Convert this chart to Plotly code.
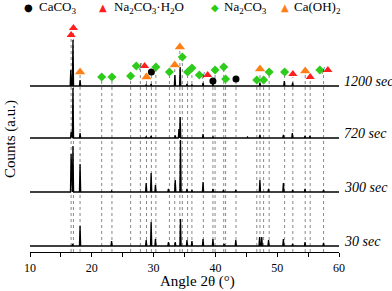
import plotly.graph_objects as go

# ---------------- data ----------------
pattern_names = ["30 sec", "300 sec", "720 sec", "1200 sec"]

peaks_30_pos = [16.9, 18.1, 23.2, 28.8, 29.6, 30.3, 32.4, 33.5, 34.35, 35.4, 36.2, 38.0, 39.6, 41.4, 43.3, 47.15, 47.5, 48.6, 51.0, 52.5, 54.5, 57.5]
peaks_30_h   = [2, 20, 5, 6, 24, 7, 4, 4, 27, 6, 5, 7, 7, 2, 6, 9, 9, 6, 7, 2, 4, 3]

peaks_300_pos = [16.65, 16.95, 18.1, 23.2, 28.8, 29.6, 30.3, 32.4, 33.5, 34.35, 35.4, 36.2, 38.0, 39.6, 41.3, 43.3, 47.2, 48.6, 51.0, 52.5, 54.5, 57.5]
peaks_300_h   = [38, 46, 28, 1, 9, 19, 7, 3, 12, 52, 3, 2, 10, 3, 2, 2, 12, 3, 9, 2, 3, 2]

peaks_720_pos = [16.65, 16.95, 18.1, 28.8, 29.6, 33.5, 34.1, 34.3, 38.0, 39.6, 45.2, 47.2, 51.0, 52.45, 54.5, 55.3]
peaks_720_h   = [6, 50, 5, 1.5, 2, 2.5, 9, 21, 4, 1.5, 1, 3, 3, 5, 2, 2]

peaks_1200_pos = [16.6, 16.95, 18.1, 28.8, 29.6, 33.45, 34.3, 35.4, 36.2, 38.0, 39.6, 47.2, 51.15, 52.5]
peaks_1200_h   = [16, 46, 6, 1.5, 2, 11, 19, 2, 1.5, 3, 2, 3, 5, 3.5]

# phase reference reflections: angle and marker height
caco3_pos = [29.64, 39.6, 43.33]
caco3_lab = [180, 171, 173]

hydrate_pos = [16.65, 17.03, 28.55, 38.75, 52.53, 55.34, 58.2]
hydrate_lab = [217, 224, 186, 177, 178, 175, 182]

na2co3_pos = [21.6, 23.26, 26.28, 27.2, 30.37, 32.56, 34.65, 35.5, 36.2, 37.4, 39.95, 41.35, 41.65, 46.7, 47.8, 48.7, 51.2, 56.9]
na2co3_lab = [175, 175, 176, 186, 185, 180, 195, 180, 184, 177, 182, 185, 173, 172, 172, 180, 180, 182]

caoh2_pos = [18.1, 28.85, 33.42, 34.25, 47.22, 54.53]
caoh2_lab = [180, 175, 187, 205, 183, 181]

# reflections shared by Na2CO3 / Na2CO3.H2O (marked with "/")
shared_pos = [27.86, 38.05, 57.5]
shared_lab = [186, 177, 182]
paired_markers = [27.2, 28.55, 37.4, 38.75, 56.9, 58.2]

# ---------------- layout constants ----------------
offsets = [6, 60, 114, 166]
half_w = 0.1
BLACK = "#000000"
RED = "#ff1f1f"
GREEN = "#2ecc1a"
ORANGE = "#ff7f17"
LINEC = "#7a7a7a"
SERIF = "Liberation Serif, Times New Roman, serif"

def profile(pos, h, off):
    xs, ys = [10], [off]
    for p, v in sorted(zip(pos, h)):
        xs += [p - half_w, p, p + half_w]
        ys += [off, off + v, off]
    xs.append(60)
    ys.append(off)
    return xs, ys

fig = go.Figure()

# dotted reference lines
lx, ly = [], []
for plist, hlist in [(caco3_pos, caco3_lab), (hydrate_pos, hydrate_lab), (na2co3_pos, na2co3_lab), (caoh2_pos, caoh2_lab)]:
    for p, v in zip(plist, hlist):
        if p in paired_markers:
            continue
        lx += [p, p, None]
        ly += [0, v - 3, None]
for p, v in zip(shared_pos, shared_lab):
    lx += [p, p, None]
    ly += [0, v + 3, None]
fig.add_trace(go.Scatter(x=lx, y=ly, mode="lines", line=dict(color=LINEC, width=0.9, dash="dot"),
                         hoverinfo="skip", showlegend=False))

# patterns
for (pos, h), off in zip([(peaks_30_pos, peaks_30_h), (peaks_300_pos, peaks_300_h),
                          (peaks_720_pos, peaks_720_h), (peaks_1200_pos, peaks_1200_h)], offsets):
    xs, ys = profile(pos, h, off)
    fig.add_trace(go.Scatter(x=xs, y=ys, mode="lines", line=dict(color=BLACK, width=1.3),
                             showlegend=False))

# phase markers
fig.add_trace(go.Scatter(x=caco3_pos, y=caco3_lab, mode="markers", cliponaxis=False,
                         marker=dict(symbol="circle", size=7, color=BLACK), showlegend=False))
fig.add_trace(go.Scatter(x=hydrate_pos, y=hydrate_lab, mode="markers", cliponaxis=False,
                         marker=dict(symbol="triangle-up", size=8, color=RED), showlegend=False))
fig.add_trace(go.Scatter(x=na2co3_pos, y=na2co3_lab, mode="markers", cliponaxis=False,
                         marker=dict(symbol="diamond", size=7, color=GREEN), showlegend=False))
fig.add_trace(go.Scatter(x=caoh2_pos, y=caoh2_lab, mode="markers", cliponaxis=False,
                         marker=dict(symbol="triangle-up", size=9, color=ORANGE), showlegend=False))

ann = []
for p, v in zip(shared_pos, shared_lab):
    ann.append(dict(x=p, y=v, xref="x", yref="y", text="/", showarrow=False,
                    font=dict(family=SERIF, size=10, color=BLACK)))

# pattern labels
for name, off in zip(pattern_names, offsets):
    ann.append(dict(x=1.0, y=off + 5, xref="paper", yref="y", text=name, showarrow=False,
                    xanchor="left", yanchor="middle", xshift=3,
                    font=dict(family=SERIF, size=14, color=BLACK, style="italic")))

W_PLOT = 309.0
H_PLOT = 252.0
def px(xp):
    return (xp - 30) / W_PLOT
def py(yp):
    return (H_PLOT - yp) / H_PLOT

legend_items = [
    ("●", BLACK, 28, "CaCO<sub>3</sub>", 37),
    ("▲", RED, 103, "Na<sub>2</sub>CO<sub>3</sub>·H<sub>2</sub>O", 112),
    ("◆", GREEN, 215, "Na<sub>2</sub>CO<sub>3</sub>", 222),
    ("▲", ORANGE, 285, "Ca(OH)<sub>2</sub>", 292),
]
for sym, col, sx, txt, tx in legend_items:
    ann.append(dict(x=px(sx), y=py(7), xref="paper", yref="paper", text=sym, showarrow=False,
                    xanchor="center", yanchor="middle", font=dict(family="DejaVu Sans", size=10, color=col)))
    ann.append(dict(x=px(tx), y=py(7), xref="paper", yref="paper", text=txt, showarrow=False,
                    xanchor="left", yanchor="middle", font=dict(family=SERIF, size=13, color=BLACK)))

# axis titles
ann.append(dict(x=px(197), y=py(281), xref="paper", yref="paper", text="Angle 2θ (°)", showarrow=False,
                xanchor="center", yanchor="middle", font=dict(family=SERIF, size=15, color=BLACK)))
ann.append(dict(x=px(10), y=py(139), xref="paper", yref="paper", text="Counts (a.u.)", showarrow=False,
                textangle=-90, xanchor="center", yanchor="middle", font=dict(family=SERIF, size=15, color=BLACK)))

fig.update_layout(
    width=392, height=291,
    margin=dict(l=30, r=53, t=0, b=39),
    paper_bgcolor="white", plot_bgcolor="white",
    showlegend=False,
    annotations=ann,
    xaxis=dict(range=[10, 60], dtick=10, tick0=10, showline=True, linecolor=BLACK, linewidth=1.2,
               ticks="outside", ticklen=4, tickcolor=BLACK, showgrid=False, zeroline=False,
               tickfont=dict(family=SERIF, size=12, color=BLACK),
               minor=dict(dtick=5, ticks="outside", ticklen=4, tickcolor=BLACK, showgrid=False)),
    yaxis=dict(range=[0, 252], visible=False, showgrid=False, zeroline=False),
)

fig.write_html("out.html", config={"displayModeBar": False},
               post_script="document.body.style.margin='0';document.body.style.padding='0';")
